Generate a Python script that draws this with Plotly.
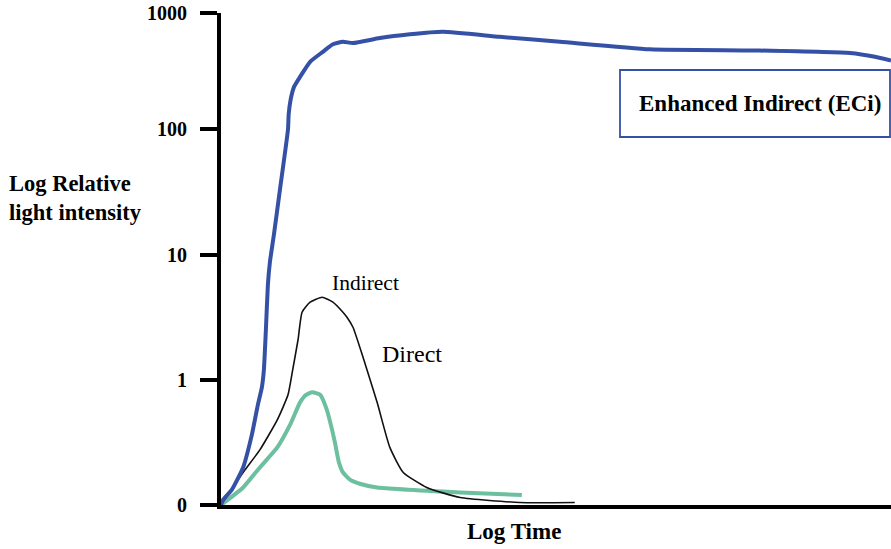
import plotly.graph_objects as go

# Data (x: log time, arbitrary units 0-100; y: log relative intensity in decades)
eci_x = [0, 0.3, 1.6, 3.3, 4.6, 5.5, 6.1, 6.4, 6.7, 7.0, 7.3, 7.9, 8.8, 10.0, 10.1, 10.4, 10.9, 11.8,
         13.3, 15.2, 16.7, 18.2, 19.7, 23.7, 28.2, 33.1, 41.6, 50.6, 64.0, 80.4, 93.9, 97.6, 100]
eci_y = [0, 0.04, 0.12, 0.30, 0.56, 0.80, 0.94, 1.08, 1.40, 1.76, 1.94, 2.16, 2.52, 3.00, 3.12, 3.24, 3.34, 3.42,
         3.54, 3.62, 3.68, 3.70, 3.69, 3.73, 3.76, 3.78, 3.74, 3.70, 3.64, 3.63, 3.61, 3.58, 3.55]

ind_x = [0, 3.3, 5.8, 8.4, 10.0, 10.7, 11.5, 12.1, 13.3, 15.1, 16.7, 18.2, 18.8, 19.7, 21.2, 23.3,
         25.2, 27.2, 30.7, 35.7, 44.6, 52.8]
ind_y = [0, 0.26, 0.44, 0.68, 0.88, 1.08, 1.32, 1.54, 1.62, 1.66, 1.62, 1.54, 1.50, 1.42, 1.18, 0.82,
         0.46, 0.26, 0.14, 0.06, 0.02, 0.02]

dir_x = [0, 3.3, 5.8, 8.4, 10.3, 11.8, 12.7, 13.6, 14.8, 15.8, 16.4, 17.0, 17.6, 18.2, 19.3, 20.7,
         23.3, 35.7, 44.9]
dir_y = [0, 0.14, 0.30, 0.46, 0.64, 0.82, 0.88, 0.90, 0.88, 0.76, 0.64, 0.50, 0.34, 0.26, 0.20, 0.17,
         0.14, 0.10, 0.08]

tick_vals = [0, 1, 2, 3, 3.93]
tick_text = ["0", "1", "10", "100", "1000"]

FONT = "Liberation Serif"

fig = go.Figure()
fig.add_trace(go.Scatter(x=dir_x, y=dir_y, mode="lines",
                         line=dict(color="#6cbf9f", width=4, shape="spline", smoothing=0.5)))
fig.add_trace(go.Scatter(x=ind_x, y=ind_y, mode="lines",
                         line=dict(color="#111111", width=1.6, shape="spline", smoothing=0.5)))
fig.add_trace(go.Scatter(x=eci_x, y=eci_y, mode="lines",
                         line=dict(color="#3551a6", width=4, shape="spline", smoothing=0.5)))

fig.update_layout(
    width=891, height=549,
    margin=dict(l=221, r=0, t=13, b=44),
    plot_bgcolor="white", paper_bgcolor="white",
    showlegend=False,
    font=dict(family=FONT, color="black"),
    xaxis=dict(range=[0, 100], showgrid=False, zeroline=False, showticklabels=False,
               showline=True, linecolor="black", linewidth=4, ticks=""),
    yaxis=dict(range=[0, 3.93], showgrid=False, zeroline=False,
               showline=True, linecolor="black", linewidth=4,
               tickmode="array", tickvals=tick_vals, ticktext=tick_text,
               ticks="outside", ticklen=17, tickwidth=4, tickcolor="black",
               ticklabelstandoff=9,
               tickfont=dict(family=FONT, size=20, color="black", weight="bold")),
)

fig.add_annotation(xref="paper", yref="paper", x=(7 - 221) / 670, y=(505 - 198) / 492,
                   xanchor="left", yanchor="middle", align="left", showarrow=False,
                   text="<b>Log Relative<br>light intensity</b>",
                   font=dict(family=FONT, size=22.5, color="black"))
fig.add_annotation(xref="paper", yref="paper", x=(514 - 221) / 670, y=(505 - 531) / 492,
                   xanchor="center", yanchor="middle", showarrow=False,
                   text="<b>Log Time</b>", font=dict(family=FONT, size=23, color="black"))
fig.add_annotation(xref="paper", yref="paper", x=(365 - 221) / 670, y=(505 - 283) / 492,
                   xanchor="center", yanchor="middle", showarrow=False,
                   text="Indirect", font=dict(family=FONT, size=21.5, color="black"))
fig.add_annotation(xref="paper", yref="paper", x=(412 - 221) / 670, y=(505 - 354) / 492,
                   xanchor="center", yanchor="middle", showarrow=False,
                   text="Direct", font=dict(family=FONT, size=24, color="black"))

fig.add_shape(type="rect", xref="paper", yref="paper",
              x0=(620 - 221) / 670, x1=(890 - 221) / 670,
              y0=(505 - 137) / 492, y1=(505 - 70) / 492,
              line=dict(color="#3551a6", width=1.8), fillcolor="white", layer="above")
fig.add_annotation(xref="paper", yref="paper", x=(760 - 221) / 670, y=(505 - 104) / 492,
                   xanchor="center", yanchor="middle", showarrow=False,
                   text="<b>Enhanced Indirect (ECi)</b>", font=dict(family=FONT, size=23, color="black"))

fig.write_html("out.html")
